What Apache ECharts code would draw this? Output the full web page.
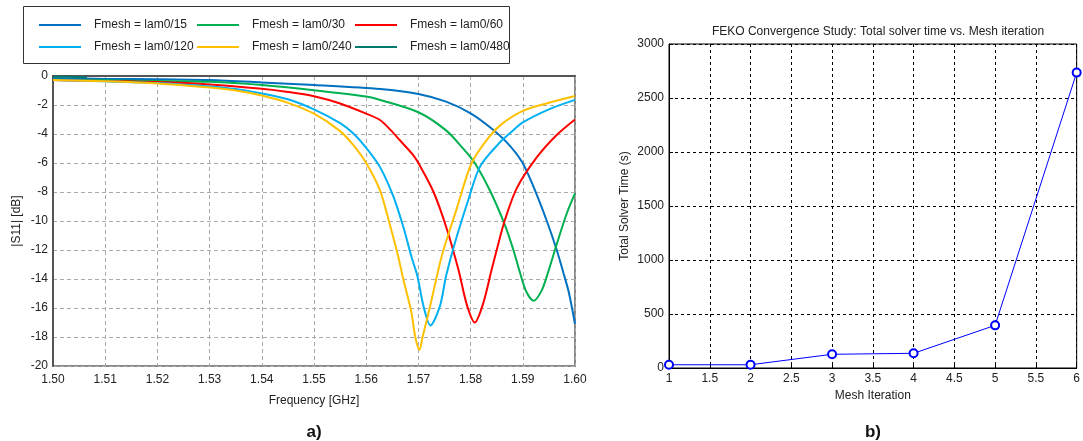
<!DOCTYPE html>
<html><head><meta charset="utf-8">
<script src="https://cdn.jsdelivr.net/npm/echarts@6/dist/echarts.min.js"></script>
<style>html,body{margin:0;padding:0;background:#fff}#c{width:1083px;height:441px}</style>
</head><body><div id="c"></div>
<script>
// ---- Chart a) |S11| vs frequency ----
const names = ['Fmesh = lam0/15','Fmesh = lam0/30','Fmesh = lam0/60','Fmesh = lam0/120','Fmesh = lam0/240','Fmesh = lam0/480'];
const colors = ['#0070C0','#00B050','#FF0000','#00B0F0','#FFC000','#007A6E'];

const f15 = [1.500,1.510,1.520,1.530,1.540,1.550,1.5627,1.570,1.5753,1.580,1.5836,1.5868,1.5898,1.5920,1.5946,1.5965,1.5978,1.5988,1.6000];
const v15 = [-0.15,-0.20,-0.22,-0.28,-0.44,-0.62,-0.90,-1.24,-1.77,-2.57,-3.50,-4.53,-5.90,-7.60,-10.0,-12.0,-13.6,-14.9,-17.1];

const f30 = [1.500,1.510,1.520,1.530,1.540,1.550,1.560,1.5627,1.570,1.5753,1.5785,1.5808,1.5837,1.5866,1.5882,1.5895,1.5907,1.5921,1.5936,1.5947,1.5965,1.5984,1.6000];
const v30 = [-0.25,-0.30,-0.35,-0.40,-0.62,-0.98,-1.42,-1.65,-2.50,-3.75,-4.98,-6.00,-7.90,-10.3,-12.0,-13.6,-14.9,-15.5,-14.8,-13.7,-11.6,-9.5,-8.1];

const f60 = [1.500,1.510,1.520,1.530,1.540,1.545,1.550,1.555,1.560,1.5627,1.5646,1.5665,1.5690,1.5700,1.5729,1.5754,1.5777,1.5793,1.5808,1.5824,1.5840,1.5850,1.5866,1.5889,1.5927,1.5964,1.6000];
const v60 = [-0.28,-0.35,-0.42,-0.58,-0.88,-1.10,-1.40,-1.90,-2.60,-3.05,-3.70,-4.45,-5.45,-6.00,-8.00,-10.5,-13.4,-15.8,-17.0,-15.7,-13.4,-12.0,-9.9,-7.7,-5.6,-4.1,-3.0];

const f120 = [1.500,1.510,1.520,1.530,1.535,1.540,1.545,1.550,1.555,1.5575,1.560,1.5626,1.5652,1.5671,1.5687,1.5698,1.5710,1.5723,1.5741,1.5753,1.5770,1.5796,1.5818,1.5853,1.5880,1.5900,1.5950,1.6000];
const v120 = [-0.28,-0.36,-0.48,-0.72,-0.90,-1.20,-1.60,-2.30,-3.25,-3.95,-4.95,-6.25,-8.30,-10.4,-12.5,-13.8,-15.9,-17.2,-15.9,-13.8,-11.5,-8.5,-6.25,-4.70,-3.80,-3.20,-2.30,-1.65];

const f240 = [1.500,1.510,1.520,1.530,1.535,1.540,1.545,1.550,1.555,1.5575,1.560,1.5626,1.5645,1.5661,1.5671,1.5686,1.5694,1.5702,1.5708,1.5721,1.5738,1.5748,1.5773,1.5802,1.5836,1.5860,1.5900,1.5950,1.6000];
const v240 = [-0.28,-0.37,-0.52,-0.80,-1.00,-1.35,-1.85,-2.60,-3.80,-4.75,-6.00,-7.86,-10.2,-12.4,-14.0,-16.2,-18.0,-18.9,-18.0,-16.1,-13.4,-12.0,-9.2,-6.0,-4.18,-3.30,-2.40,-1.85,-1.38];

const f480 = [1.500,1.503,1.5065];
const v480 = [-0.05,-0.06,-0.08];

const freqTicks = [1.50,1.60,0.01];   // min, max, step
const s11Ticks = [-20,0,2];

// ---- Chart b) solver time ----
const meshIter = [1,2,3,4,5,6];
const solverTime = [30,30,127,136,395,2735];

const fs = [f15,f30,f60,f120,f240,f480];
const vs = [v15,v30,v60,v120,v240,v480];

const FONT = 'Liberation Sans, Arial, sans-serif';
const series = names.map((n,i)=>({
  name:n, type:'line', xAxisIndex:0, yAxisIndex:0,
  data: fs[i].map((f,k)=>[f, vs[i][k]]),
  symbol:'none', smooth:0.3,
  lineStyle:{width:2,color:colors[i]}, itemStyle:{color:colors[i]},
  emphasis:{disabled:true}, animation:false
}));
series.push({
  name:'time', type:'line', xAxisIndex:1, yAxisIndex:1,
  data: meshIter.map((m,k)=>[m, solverTime[k]]),
  symbol:'emptyCircle', symbolSize:8,
  lineStyle:{width:1,color:'#0000FF'}, itemStyle:{color:'#0000FF',borderColor:'#0000FF',borderWidth:1},
  emphasis:{disabled:true}, animation:false
});

const legTxt = {fontFamily:FONT,fontSize:12,color:'#222',padding:[0,0,0,8]};
const legends = names.map((n,i)=>({
  data:[n], left:34 + (i%3)*158, top: i<3 ? 14 : 36,
  itemWidth:42,itemHeight:2,icon:'rect',textStyle:legTxt,selectedMode:false
}));
const chart = echarts.init(document.getElementById('c'));
chart.setOption({
  animation:false,
  backgroundColor:'#fff',
  title:{text:'FEKO Convergence Study: Total solver time vs. Mesh iteration',left:873,top:21,textAlign:'center',
    textStyle:{fontFamily:FONT,fontSize:12,fontWeight:'normal',color:'#222'}},
  legend:legends,
  graphic:[
    {type:'rect',shape:{x:23.5,y:6.5,width:486,height:57},style:{fill:'none',stroke:'#333',lineWidth:1},z:-1},
    {type:'text',x:314,y:432,style:{text:'a)',font:'bold 17px '+FONT,fill:'#111',textAlign:'center',textVerticalAlign:'middle'}},
    {type:'text',x:873,y:432,style:{text:'b)',font:'bold 17px '+FONT,fill:'#111',textAlign:'center',textVerticalAlign:'middle'}}
  ],
  grid:[
    {left:53,top:76,right:508,bottom:75,show:true,borderColor:'#888',borderWidth:2,containLabel:false},
    {left:669,top:44,right:4,bottom:73,show:true,borderColor:'#000',borderWidth:1,containLabel:false}
  ],
  xAxis:[
    {type:'value',gridIndex:0,min:freqTicks[0],max:freqTicks[1],interval:freqTicks[2],
      name:'Frequency [GHz]',nameLocation:'middle',nameGap:29,nameTextStyle:{fontFamily:FONT,fontSize:12,color:'#222'},
      axisLine:{lineStyle:{color:'#555',width:2}},axisTick:{show:false},
      axisLabel:{fontFamily:FONT,fontSize:12,color:'#222',margin:8,formatter:v=>v.toFixed(2)},
      splitLine:{show:true,lineStyle:{color:'#aaa',type:[4,3],width:1}}},
    {type:'value',gridIndex:1,min:1,max:6,interval:0.5,
      name:'Mesh Iteration',nameLocation:'middle',nameGap:21,nameTextStyle:{fontFamily:FONT,fontSize:12,color:'#222'},
      axisLine:{lineStyle:{color:'#000',width:1}},axisTick:{show:true,inside:true,length:4,lineStyle:{color:'#000'}},
      axisLabel:{fontFamily:FONT,fontSize:12,color:'#222',margin:5,formatter:v=>String(v)},
      splitLine:{show:true,lineStyle:{color:'#000',type:[3,3],width:1}}}
  ],
  yAxis:[
    {type:'value',gridIndex:0,min:s11Ticks[0],max:s11Ticks[1],interval:s11Ticks[2],
      name:'|S11| [dB]',nameLocation:'middle',nameGap:30,nameRotate:90,nameTextStyle:{fontFamily:FONT,fontSize:12,color:'#222'},
      axisLine:{lineStyle:{color:'#555',width:2}},axisTick:{show:false},
      axisLabel:{fontFamily:FONT,fontSize:12,color:'#222',margin:5},
      splitLine:{show:true,lineStyle:{color:'#aaa',type:[4,3],width:1}}},
    {type:'value',gridIndex:1,min:0,max:3000,interval:500,
      name:'Total Solver Time (s)',nameLocation:'middle',nameGap:38,nameRotate:90,nameTextStyle:{fontFamily:FONT,fontSize:12,color:'#222'},
      axisLine:{lineStyle:{color:'#000',width:1}},axisTick:{show:true,inside:true,length:4,lineStyle:{color:'#000'}},
      axisLabel:{fontFamily:FONT,fontSize:12,color:'#222',margin:5,formatter:v=>String(v)},
      splitLine:{show:true,lineStyle:{color:'#000',type:[3,3],width:1}}}
  ],
  series:series
});
</script></body></html>
